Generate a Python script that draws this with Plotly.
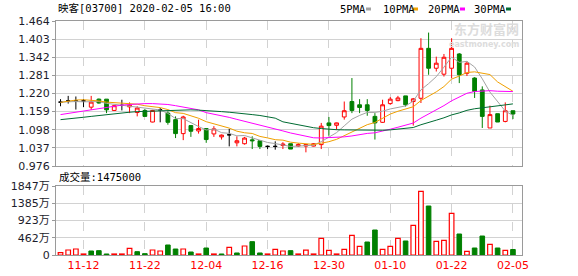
import plotly.graph_objects as go
import pandas as pd

# ---------------- data ----------------
opens  = [1.191,1.195,1.195,1.195,1.174,1.201,1.201,1.163,1.180,1.175,
          1.156,1.163,1.124,1.165,1.154,1.132,1.085,1.112,1.094,1.102,
          1.084,1.074,1.081,1.054,1.051,1.064,1.061,1.042,1.042,1.045,
          1.051,1.043,1.043,1.043,1.048,1.121,1.113,1.141,1.193,1.182,
          1.182,1.143,1.123,1.186,1.196,1.212,1.193,1.204,1.372,1.305,
          1.285,1.305,1.353,1.288,1.272,1.232,1.104,1.152,1.126,1.162]
highs  = [1.201,1.212,1.210,1.201,1.212,1.203,1.201,1.181,1.199,1.190,
          1.177,1.168,1.165,1.171,1.160,1.143,1.145,1.112,1.132,1.102,
          1.110,1.082,1.101,1.076,1.074,1.076,1.061,1.045,1.059,1.056,
          1.051,1.053,1.049,1.053,1.121,1.141,1.122,1.193,1.272,1.201,
          1.201,1.154,1.199,1.208,1.212,1.212,1.205,1.406,1.425,1.344,
          1.353,1.406,1.356,1.328,1.275,1.244,1.179,1.152,1.190,1.162]
lows   = [1.177,1.186,1.166,1.174,1.165,1.186,1.154,1.161,1.163,1.154,
          1.143,1.143,1.123,1.123,1.115,1.070,1.063,1.074,1.085,1.054,
          1.074,1.065,1.042,1.042,1.048,1.033,1.033,1.033,1.031,1.033,
          1.033,1.040,1.022,1.042,1.033,1.078,1.098,1.132,1.154,1.154,
          1.145,1.065,1.121,1.182,1.194,1.176,1.112,1.188,1.283,1.294,
          1.277,1.272,1.255,1.279,1.205,1.104,1.104,1.124,1.123,1.134]
closes = [1.191,1.195,1.195,1.195,1.191,1.188,1.165,1.179,1.180,1.181,
          1.171,1.143,1.163,1.165,1.123,1.085,1.141,1.093,1.102,1.065,
          1.101,1.080,1.081,1.061,1.070,1.061,1.042,1.042,1.042,1.050,
          1.033,1.048,1.048,1.051,1.110,1.112,1.121,1.162,1.163,1.173,
          1.163,1.121,1.182,1.201,1.205,1.182,1.202,1.372,1.305,1.322,
          1.342,1.372,1.283,1.322,1.227,1.143,1.149,1.124,1.162,1.151]
# volume, in 万 shares
volumes = [62,134,160,27,107,116,27,27,27,178,
           89,36,134,107,268,160,160,80,27,187,
           27,27,205,54,241,357,54,27,152,107,
           116,27,130,27,446,125,27,152,526,232,
           348,669,152,232,446,375,794,1704,1311,366,
           393,1115,562,98,187,508,285,187,125,147.5]

# moving-average values at the left edge (window reaches before the first bar)
ma5_head  = [1.191,1.193,1.193,1.192]
ma10_head = [1.190,1.195,1.198,1.199,1.198,1.195,1.191,1.189,1.187]
ma20_head = [1.149,1.153,1.157,1.161,1.166,1.170,1.175,1.178,1.181,1.183,
             1.185,1.186,1.186,1.185,1.183,1.179,1.174,1.169,1.165]
ma30_head = [1.132,1.134,1.137,1.140,1.143,1.146,1.150,1.153,1.155,1.157,
             1.159,1.160,1.161,1.163,1.164,1.165,1.165,1.165,1.164,1.163,
             1.161,1.159,1.157,1.155,1.152,1.149,1.146,1.142,1.137]

tick_idx    = [3, 11, 19, 27, 35, 43, 51, 59]
tick_labels = ["11-12","11-22","12-04","12-16","12-30","01-10","01-22","02-05"]

price_ticks = [0.976,1.037,1.098,1.159,1.220,1.281,1.342,1.403,1.464]
vol_ticks   = [0,462,923,1385,1847]
vol_ticktext = ["0","462万","923万","1385万","1847万"]

title_text = "映客[03700] 2020-02-05 16:00"
vol_text = "成交量:1475000"

# ---------------- derived ----------------
n = len(closes)
idx = list(range(n))
cs = pd.Series(closes)

def ma(win, head):
    r = cs.rolling(win).mean().tolist()
    return head + r[len(head):]

ma_specs = [("5PMA", ma(5, ma5_head), "#a3a3a3"),
            ("10PMA", ma(10, ma10_head), "#f0a000"),
            ("20PMA", ma(20, ma20_head), "#ff00ff"),
            ("30PMA", ma(30, ma30_head), "#006b32")]

RED = "#ff0000"
GREEN = "#008000"

up = [i for i in idx if closes[i] > opens[i]]
dn = [i for i in idx if closes[i] < opens[i]]
dj = [i for i in idx if closes[i] == opens[i]]

fig = go.Figure()

def candle(sel, inc_line, inc_fill, dec_line, dec_fill):
    return go.Candlestick(
        x=sel, open=[opens[i] for i in sel], high=[highs[i] for i in sel],
        low=[lows[i] for i in sel], close=[closes[i] for i in sel],
        increasing=dict(line=dict(color=inc_line, width=1), fillcolor=inc_fill),
        decreasing=dict(line=dict(color=dec_line, width=1), fillcolor=dec_fill),
        whiskerwidth=0, showlegend=False, hoverinfo="skip",
        xaxis="x", yaxis="y")

# MA lines
for name, vals, col in ma_specs:
    fig.add_trace(go.Scatter(x=idx, y=vals, mode="lines",
                             line=dict(color=col, width=1),
                             showlegend=False, hoverinfo="skip",
                             xaxis="x", yaxis="y"))

fig.add_trace(candle(up, RED, "#ffffff", RED, "#ffffff"))
fig.add_trace(candle(dn, GREEN, GREEN, GREEN, GREEN))
fig.add_trace(candle(dj, "#000000", "#000000", "#000000", "#000000"))

# volume bars coloured by close vs previous close
vol_up = [i for i in idx if i == 0 or closes[i] >= closes[i - 1]]
vol_dn = [i for i in idx if i not in vol_up]
fig.add_trace(go.Bar(x=vol_up, y=[volumes[i] for i in vol_up], width=0.6,
                     marker=dict(color="#ffffff", line=dict(color=RED, width=1.2)),
                     showlegend=False, hoverinfo="skip", xaxis="x2", yaxis="y2"))
fig.add_trace(go.Bar(x=vol_dn, y=[volumes[i] for i in vol_dn], width=0.6,
                     marker=dict(color=GREEN, line=dict(color=GREEN, width=1)),
                     showlegend=False, hoverinfo="skip", xaxis="x2", yaxis="y2"))

# ---------------- layout ----------------
W, H = 578, 276
ML, MR, MT, MB = 56, 56, 21, 21
PW, PH = W - ML - MR, H - MT - MB

def fx(px):
    return (px - ML) / PW

def fy(py):
    return (H - MB - py) / PH

GRID = "#d2d2d2"
AXL = "#9a9a9a"
TICKFONT = dict(family="DejaVu Sans, Noto Sans CJK SC", size=11, color="#1c1c2c")
MONO = "DejaVu Sans Mono, Noto Sans CJK SC"

xr = [-0.59, 60.18]
common_x = dict(range=xr, tickmode="array", tickvals=tick_idx, showgrid=True,
                griddash="dash", gridcolor=GRID, gridwidth=1, showline=True,
                mirror=True, linecolor=AXL, linewidth=1, zeroline=False,
                fixedrange=True, automargin=False)

fig.update_layout(
    width=W, height=H, margin=dict(l=ML, r=MR, t=MT, b=MB, pad=0, autoexpand=False),
    paper_bgcolor="#ffffff", plot_bgcolor="#ffffff",
    showlegend=False, bargap=0.3,
    xaxis=dict(**common_x, ticktext=tick_labels, showticklabels=False,
               anchor="y", rangeslider=dict(visible=False), ticks=""),
    yaxis=dict(domain=[fy(166), 1], range=[0.976, 1.464], tickmode="array",
               tickvals=price_ticks, ticktext=[f"{v:.3f}" for v in price_ticks],
               showgrid=True, gridcolor=GRID, showline=True, mirror=True,
               linecolor=AXL, ticks="outside", ticklen=3, tickcolor=AXL,
               tickfont=TICKFONT, zeroline=False, anchor="x", automargin=False),
    xaxis2=dict(**common_x, ticktext=tick_labels, showticklabels=True,
                anchor="y2", ticks="", matches="x",
                tickfont=dict(family="DejaVu Sans", size=11, color=RED)),
    yaxis2=dict(domain=[0, fy(186)], range=[0, 1847], tickmode="array",
                tickvals=vol_ticks, ticktext=vol_ticktext, showgrid=True,
                gridcolor=GRID, showline=True, mirror=True, linecolor=AXL,
                ticks="outside", ticklen=3, tickcolor=AXL, tickfont=TICKFONT,
                zeroline=False, anchor="x2", automargin=False),
)

ann = []
ann.append(dict(text=title_text, x=fx(56), y=fy(8.5), xref="paper", yref="paper",
                xanchor="left", yanchor="middle", showarrow=False,
                font=dict(family=MONO, size=10.5, color="#000000")))
ann.append(dict(text=vol_text, x=fx(57), y=fy(176.5), xref="paper", yref="paper",
                xanchor="left", yanchor="middle", showarrow=False,
                font=dict(family=MONO, size=10.5, color="#000000")))
# watermark
ann.append(dict(text="<b>东方财富网</b>", x=fx(521), y=fy(28), xref="paper", yref="paper",
                xanchor="right", yanchor="middle", showarrow=False,
                font=dict(family="Noto Sans CJK SC", size=13, color="#dcdcdc")))
ann.append(dict(text="<b>eastmoney.com</b>", x=fx(521), y=fy(44.5), xref="paper", yref="paper",
                xanchor="right", yanchor="middle", showarrow=False,
                font=dict(family="DejaVu Sans", size=8, color="#dcdcdc")))

shapes = []
leg_x = [338, 381, 426, 472]
sq_x = [366, 413, 460, 506]
for (name, vals, col), lx, sx in zip(ma_specs, leg_x, sq_x):
    ann.append(dict(text=name, x=fx(lx), y=fy(9), xref="paper", yref="paper",
                    xanchor="left", yanchor="middle", showarrow=False,
                    font=dict(family=MONO, size=10.5, color="#000000")))
    shapes.append(dict(type="rect", xref="paper", yref="paper",
                       x0=fx(sx), x1=fx(sx + 5), y0=fy(10.5), y1=fy(7.5),
                       fillcolor=col, line=dict(width=0)))

fig.update_layout(annotations=ann, shapes=shapes)

fig.write_html("out.html")
